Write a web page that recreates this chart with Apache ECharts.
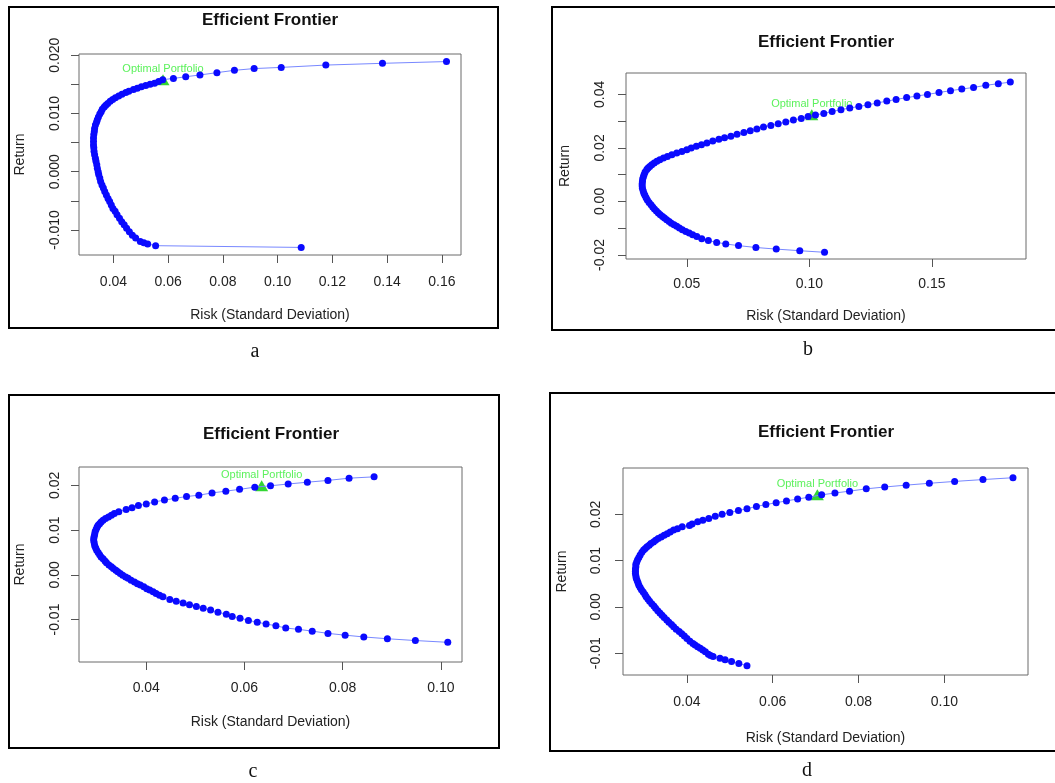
<!DOCTYPE html>
<html>
<head>
<meta charset="utf-8">
<title>Efficient Frontier</title>
<script src="https://cdn.jsdelivr.net/npm/echarts@6/dist/echarts.min.js"></script>
<style>
  html, body { margin: 0; padding: 0; background: #fff; }
  #chart { width: 1055px; height: 783px; }
</style>
</head>
<body>
<div id="chart"></div>
<script>
// frontier points [risk, return]
const frontierA = [
  [0.1617,0.0189],[0.1383,0.0186],[0.1176,0.0183],[0.1013,0.0179],[0.0914,0.0177],[0.0842,0.0174],
  [0.0778,0.0170],[0.0716,0.0166],[0.0664,0.0163],[0.0619,0.0160],[0.0580,0.0158],
  [0.0565,0.0155],[0.0550,0.0152],[0.0534,0.0150],[0.0518,0.0148],[0.0502,0.0146],[0.0487,0.0143],
  [0.0473,0.0141],[0.0456,0.0138],[0.0445,0.0136],[0.0431,0.0133],[0.0419,0.0130],[0.0407,0.0127],
  [0.0397,0.0124],[0.0388,0.0121],[0.0379,0.0117],[0.0372,0.0114],[0.0366,0.0111],[0.0359,0.0107],
  [0.0355,0.0103],[0.0350,0.0099],[0.0345,0.0094],[0.0341,0.0089],[0.0338,0.0085],[0.0334,0.0080],
  [0.0331,0.0074],[0.0330,0.0069],[0.0328,0.0064],[0.0327,0.0058],[0.0327,0.0052],[0.0327,0.0046],
  [0.0328,0.0041],[0.0329,0.0035],[0.0331,0.0029],[0.0334,0.0023],[0.0336,0.0018],[0.0339,0.0012],
  [0.0341,0.0006],[0.0344,0.0000],[0.0346,-0.0005],[0.0350,-0.0011],[0.0353,-0.0017],[0.0358,-0.0023],
  [0.0363,-0.0028],[0.0368,-0.0034],[0.0374,-0.0040],[0.0380,-0.0046],[0.0386,-0.0051],[0.0392,-0.0057],
  [0.0398,-0.0063],[0.0406,-0.0068],[0.0413,-0.0074],[0.0422,-0.0080],[0.0430,-0.0086],[0.0439,-0.0091],
  [0.0448,-0.0097],[0.0458,-0.0103],[0.0469,-0.0109],[0.0481,-0.0114],[0.0498,-0.0120],[0.0511,-0.0122],
  [0.0525,-0.0124],[0.0554,-0.0127],[0.1086,-0.0130]
];
const frontierB = [
  [0.1820,0.0446],[0.1771,0.0440],[0.1720,0.0434],[0.1670,0.0426],[0.1622,0.0420],[0.1576,0.0414],
  [0.1529,0.0407],[0.1482,0.0400],[0.1439,0.0394],[0.1397,0.0388],[0.1354,0.0381],[0.1316,0.0375],
  [0.1277,0.0368],[0.1239,0.0361],[0.1202,0.0355],[0.1165,0.0349],[0.1129,0.0343],[0.1093,0.0336],
  [0.1059,0.0329],[0.1025,0.0323],[0.0995,0.0317],[0.0967,0.0310],[0.0935,0.0304],[0.0904,0.0297],
  [0.0873,0.0290],[0.0843,0.0284],[0.0813,0.0278],[0.0786,0.0271],[0.0759,0.0264],[0.0733,0.0258],
  [0.0705,0.0251],[0.0680,0.0244],[0.0654,0.0238],[0.0631,0.0232],[0.0606,0.0226],[0.0582,0.0218],
  [0.0560,0.0212],[0.0539,0.0206],[0.0518,0.0200],
  [0.0500,0.0193],[0.0480,0.0187],[0.0459,0.0181],[0.0439,0.0175],[0.0421,0.0168],[0.0405,0.0162],
  [0.0390,0.0156],[0.0378,0.0150],[0.0367,0.0144],[0.0357,0.0137],[0.0349,0.0131],[0.0342,0.0125],
  [0.0337,0.0119],[0.0330,0.0110],[0.0326,0.0101],[0.0323,0.0092],[0.0320,0.0084],[0.0319,0.0075],
  [0.0318,0.0066],[0.0318,0.0058],[0.0319,0.0049],[0.0322,0.0040],[0.0325,0.0031],[0.0329,0.0023],
  [0.0334,0.0014],[0.0339,0.0005],[0.0346,-0.0004],[0.0354,-0.0012],[0.0361,-0.0021],[0.0368,-0.0028],
  [0.0376,-0.0036],[0.0384,-0.0043],[0.0392,-0.0050],[0.0401,-0.0056],[0.0409,-0.0062],[0.0418,-0.0068],
  [0.0428,-0.0075],[0.0437,-0.0081],[0.0448,-0.0087],[0.0459,-0.0093],[0.0470,-0.0099],[0.0482,-0.0106],
  [0.0496,-0.0112],[0.0510,-0.0118],[0.0524,-0.0124],[0.0541,-0.0131],
  [0.0561,-0.0139],[0.0588,-0.0146],[0.0622,-0.0153],[0.0659,-0.0159],[0.0711,-0.0165],[0.0782,-0.0172],
  [0.0865,-0.0178],[0.0961,-0.0184],[0.1062,-0.0190]
];
const frontierC = [
  [0.0864,0.0219],[0.0813,0.0216],[0.0770,0.0211],[0.0728,0.0207],[0.0689,0.0203],[0.0653,0.0199],
  [0.0621,0.0196],[0.0590,0.0191],[0.0562,0.0187],[0.0534,0.0183],[0.0507,0.0178],[0.0482,0.0175],
  [0.0459,0.0171],[0.0437,0.0167],[0.0417,0.0163],[0.0400,0.0158],[0.0384,0.0155],[0.0371,0.0150],
  [0.0359,0.0146],
  [0.0344,0.0141],[0.0335,0.0137],[0.0329,0.0133],[0.0323,0.0129],[0.0317,0.0126],[0.0312,0.0122],
  [0.0308,0.0118],[0.0305,0.0114],[0.0302,0.0111],[0.0300,0.0107],[0.0298,0.0102],[0.0296,0.0097],
  [0.0295,0.0091],[0.0294,0.0086],[0.0293,0.0081],[0.0293,0.0076],[0.0294,0.0071],[0.0295,0.0065],
  [0.0297,0.0060],[0.0299,0.0055],[0.0302,0.0050],[0.0305,0.0045],[0.0308,0.0040],[0.0312,0.0036],
  [0.0316,0.0031],[0.0319,0.0027],[0.0324,0.0022],[0.0329,0.0018],[0.0333,0.0014],[0.0338,0.0010],
  [0.0342,0.0007],[0.0347,0.0003],[0.0352,-0.0001],[0.0358,-0.0005],[0.0363,-0.0008],[0.0369,-0.0012],
  [0.0376,-0.0016],[0.0382,-0.0020],[0.0388,-0.0023],[0.0395,-0.0027],[0.0401,-0.0031],[0.0407,-0.0034],
  [0.0414,-0.0038],[0.0420,-0.0042],[0.0427,-0.0046],
  [0.0434,-0.0049],[0.0448,-0.0055],[0.0461,-0.0059],[0.0475,-0.0063],[0.0488,-0.0067],[0.0502,-0.0071],
  [0.0516,-0.0075],[0.0531,-0.0079],[0.0546,-0.0084],[0.0563,-0.0088],[0.0575,-0.0093],[0.0591,-0.0097],
  [0.0608,-0.0102],[0.0626,-0.0106],[0.0644,-0.0110],[0.0664,-0.0114],[0.0684,-0.0119],[0.0710,-0.0122],
  [0.0738,-0.0126],[0.0770,-0.0131],[0.0805,-0.0135],[0.0843,-0.0139],[0.0891,-0.0143],[0.0948,-0.0147],
  [0.1014,-0.0151]
];
const frontierD = [
  [0.1160,0.0279],[0.1090,0.0275],[0.1024,0.0271],[0.0965,0.0267],[0.0911,0.0263],[0.0861,0.0259],
  [0.0818,0.0255],[0.0779,0.0250],[0.0745,0.0246],[0.0714,0.0242],[0.0684,0.0237],[0.0658,0.0233],
  [0.0632,0.0229],[0.0608,0.0225],[0.0584,0.0221],[0.0562,0.0217],[0.0540,0.0212],[0.0520,0.0208],
  [0.0500,0.0204],[0.0482,0.0200],[0.0466,0.0196],[0.0451,0.0191],[0.0437,0.0187],[0.0425,0.0184],
  [0.0412,0.0179],
  [0.0406,0.0176],[0.0389,0.0173],[0.0378,0.0169],[0.0369,0.0166],[0.0361,0.0162],[0.0354,0.0158],
  [0.0347,0.0155],[0.0340,0.0151],[0.0333,0.0148],[0.0327,0.0144],[0.0322,0.0140],[0.0316,0.0137],
  [0.0312,0.0133],[0.0307,0.0130],[0.0303,0.0126],[0.0299,0.0123],[0.0295,0.0118],[0.0291,0.0112],
  [0.0288,0.0107],[0.0285,0.0102],[0.0283,0.0097],[0.0281,0.0092],[0.0281,0.0087],[0.0280,0.0082],
  [0.0280,0.0077],[0.0280,0.0072],[0.0281,0.0067],[0.0282,0.0062],[0.0284,0.0057],[0.0286,0.0052],
  [0.0288,0.0047],[0.0291,0.0042],[0.0294,0.0037],[0.0298,0.0032],[0.0302,0.0027],[0.0305,0.0022],
  [0.0309,0.0017],[0.0313,0.0012],[0.0318,0.0007],[0.0323,0.0002],[0.0327,-0.0003],[0.0332,-0.0008],
  [0.0337,-0.0013],[0.0342,-0.0018],[0.0347,-0.0023],[0.0353,-0.0028],[0.0358,-0.0033],[0.0364,-0.0038],
  [0.0369,-0.0043],[0.0375,-0.0048],[0.0382,-0.0053],[0.0388,-0.0058],[0.0394,-0.0063],[0.0400,-0.0068],
  [0.0407,-0.0074],[0.0414,-0.0079],[0.0419,-0.0082],[0.0425,-0.0086],[0.0431,-0.0089],[0.0437,-0.0093],
  [0.0443,-0.0097],[0.0450,-0.0102],[0.0455,-0.0105],
  [0.0461,-0.0107],[0.0477,-0.0111],[0.0489,-0.0114],[0.0504,-0.0118],[0.0521,-0.0122],[0.0540,-0.0127]
];

// optimal portfolio (green triangle)
const optimalA = [0.0581, 0.0158];
const optimalB = [0.1010, 0.0324];
const optimalC = [0.0635, 0.0199];
const optimalD = [0.0704, 0.0242];

// axis ranges and ticks
const xRangeA = [0.0274, 0.1670], yRangeA = [-0.0143, 0.0202];
const xRangeB = [0.0252, 0.1884], yRangeB = [-0.0215, 0.0480];
const xRangeC = [0.0263, 0.1043], yRangeC = [-0.0195, 0.0241];
const xRangeD = [0.0251, 0.1195], yRangeD = [-0.0147, 0.0300];

const xTicksA = [0.04, 0.06, 0.08, 0.10, 0.12, 0.14, 0.16];
const yTicksA = [-0.010, -0.005, 0, 0.005, 0.010, 0.015, 0.020];
const yLabelsA = [-0.010, 0, 0.010, 0.020];
const xTicksB = [0.05, 0.10, 0.15];
const yTicksB = [-0.02, -0.01, 0, 0.01, 0.02, 0.03, 0.04];
const yLabelsB = [-0.02, 0, 0.02, 0.04];
const xTicksC = [0.04, 0.06, 0.08, 0.10];
const yTicksC = [-0.01, 0, 0.01, 0.02];
const xTicksD = [0.04, 0.06, 0.08, 0.10];
const yTicksD = [-0.01, 0, 0.01, 0.02];

const panelLetters = ['a', 'b', 'c', 'd'];

const FONT = '"Liberation Sans", Arial, Helvetica, sans-serif';

// layout of each panel on the page
const panels = [
  { data: frontierA, opt: optimalA, xr: xRangeA, yr: yRangeA, xt: xTicksA, yt: yTicksA, yl: yLabelsA, yDec: 3,
    grid: { left: 79, top: 54, width: 382, height: 201 }, frame: [9, 7, 489, 321],
    title: [270, 20], letter: [255, 352], xm: 20, ym: 17, xGap: 53, yGap: 52 },
  { data: frontierB, opt: optimalB, xr: xRangeB, yr: yRangeB, xt: xTicksB, yt: yTicksB, yl: yLabelsB, yDec: 2,
    grid: { left: 626, top: 73, width: 400, height: 186 }, frame: [552, 7, 520, 323],
    title: [826, 42], letter: [808, 350], xm: 18, ym: 19, xGap: 50, yGap: 54 },
  { data: frontierC, opt: optimalC, xr: xRangeC, yr: yRangeC, xt: xTicksC, yt: yTicksC, yl: yTicksC, yDec: 2,
    grid: { left: 79, top: 467, width: 383, height: 195 }, frame: [9, 395, 490, 353],
    title: [271, 434], letter: [253, 772], xm: 19, ym: 17, xGap: 53, yGap: 52 },
  { data: frontierD, opt: optimalD, xr: xRangeD, yr: yRangeD, xt: xTicksD, yt: yTicksD, yl: yTicksD, yDec: 2,
    grid: { left: 623, top: 468, width: 405, height: 207 }, frame: [550, 393, 520, 358],
    title: [826, 432], letter: [807, 771], xm: 20, ym: 20, xGap: 56, yGap: 54 }
];

const grids = [], xAxes = [], yAxes = [], series = [], graphics = [];

panels.forEach(function (p, i) {
  grids.push(Object.assign({
    show: true, borderColor: '#6a6a6a', borderWidth: 1, backgroundColor: 'transparent',
    containLabel: false, outerBoundsMode: 'none'
  }, p.grid));

  xAxes.push({
    gridIndex: i, type: 'value', min: p.xr[0], max: p.xr[1],
    axisLine: { show: false, onZero: false },
    splitLine: { show: false },
    axisTick: { show: true, length: 8, customValues: p.xt, lineStyle: { color: '#555' } },
    axisLabel: { customValues: p.xt, margin: p.xm, fontSize: 14, color: '#222', fontFamily: FONT,
      formatter: function (v) { return v.toFixed(2); } },
    name: 'Risk (Standard Deviation)', nameLocation: 'middle', nameGap: p.xGap,
    nameTextStyle: { fontSize: 14, color: '#222', fontFamily: FONT }
  });

  yAxes.push({
    gridIndex: i, type: 'value', min: p.yr[0], max: p.yr[1],
    axisLine: { show: false, onZero: false },
    splitLine: { show: false },
    axisTick: { show: true, length: 8, customValues: p.yt, lineStyle: { color: '#555' } },
    axisLabel: { customValues: p.yl, margin: p.ym, rotate: 90, fontSize: 14, color: '#222', fontFamily: FONT,
      formatter: function (v) { return v.toFixed(p.yDec); } },
    name: 'Return', nameLocation: 'middle', nameGap: p.yGap,
    nameTextStyle: { fontSize: 14, color: '#222', fontFamily: FONT }
  });

  series.push({
    type: 'line', xAxisIndex: i, yAxisIndex: i, data: p.data,
    symbol: 'circle', symbolSize: 7, showSymbol: true, showAllSymbol: true,
    itemStyle: { color: '#0a0aff', borderWidth: 0 },
    lineStyle: { color: '#7888ff', width: 1 },
    emphasis: { disabled: true }, silent: true
  });

  series.push({
    type: 'scatter', xAxisIndex: i, yAxisIndex: i, data: [p.opt],
    symbol: 'triangle', symbolSize: [13, 11],
    itemStyle: { color: '#00cc00' },
    label: { show: true, position: 'top', distance: 0, formatter: 'Optimal Portfolio',
      color: '#33ee33', fontSize: 11, fontFamily: FONT },
    emphasis: { disabled: true }, silent: true
  });

  graphics.push({
    type: 'rect', silent: true,
    shape: { x: p.frame[0], y: p.frame[1], width: p.frame[2], height: p.frame[3] },
    style: { fill: 'none', stroke: '#000', lineWidth: 2 }
  });
  graphics.push({
    type: 'text', silent: true, x: p.title[0], y: p.title[1],
    style: { text: 'Efficient Frontier', fill: '#111', fontSize: 17, fontWeight: 'bold', fontFamily: FONT,
      align: 'center', verticalAlign: 'middle' }
  });
  graphics.push({
    type: 'text', silent: true, x: p.letter[0], y: p.letter[1],
    style: { text: panelLetters[i], fill: '#111', fontSize: 20, fontFamily: '"Liberation Serif", "DejaVu Serif", serif',
      align: 'center', verticalAlign: 'middle' }
  });
});

const chart = echarts.init(document.getElementById('chart'), null, { renderer: 'canvas' });
chart.setOption({
  animation: false,
  backgroundColor: '#fff',
  grid: grids,
  xAxis: xAxes,
  yAxis: yAxes,
  series: series,
  graphic: graphics
});
</script>
</body>
</html>
